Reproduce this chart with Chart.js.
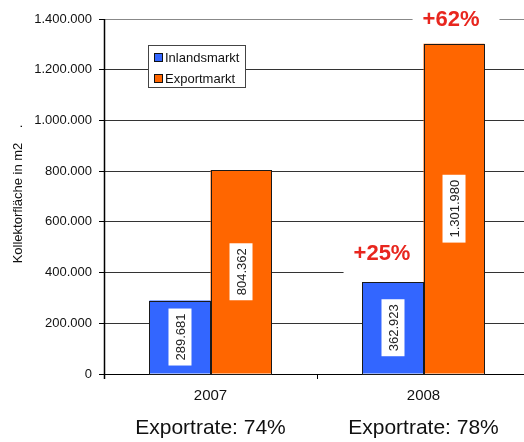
<!DOCTYPE html>
<html>
<head>
<meta charset="utf-8">
<script src="https://cdn.jsdelivr.net/npm/chart.js@4"></script>
<style>
  html, body { margin: 0; padding: 0; overflow: hidden; background: #fff; }
  #wrap { width: 524px; height: 442px; overflow: hidden; position: relative; }
  #chart1 { display: block; }
</style>
</head>
<body>
<div id="wrap"><canvas id="chart1" width="530" height="442"></canvas></div>
<script>
// data
const years = ['2007', '2008'];
const inland = [289681, 362923];
const exportValues = [804362, 1301980];
const growthLabels = ['+25%', '+62%'];
const exportRates = ['Exportrate: 74%', 'Exportrate: 78%'];
const yTicks = [0, 200000, 400000, 600000, 800000, 1000000, 1200000, 1400000];

const FONT = "Arial, 'Liberation Sans', sans-serif";
const fmt = v => String(v).replace(/\B(?=(\d{3})+(?!\d))/g, '.');

// labels, legend, titles drawn on top of the chart
const extras = {
    id: 'extras',
    beforeDatasetsDraw(chart) {
        const ctx = chart.ctx;
        ctx.save();
        ctx.fillStyle = '#fff';
        growthSpots(chart).forEach(s => {
            ctx.font = 'bold 22px ' + FONT;
            const w = ctx.measureText(s.text).width;
            ctx.fillRect(s.x - w / 2 - 10, s.y - 20, w + 30, 40);
        });
        ctx.restore();
    },
    afterDatasetsDraw(chart) {
        const ctx = chart.ctx;
        ctx.save();
        // crisp outlines round the bars
        ctx.strokeStyle = '#1a1a1a';
        ctx.lineWidth = 1;
        chart.data.datasets.forEach((ds, di) => {
            chart.getDatasetMeta(di).data.forEach(bar => {
                const l = Math.round(bar.x - bar.width / 2);
                const r = Math.round(bar.x + bar.width / 2);
                const t = Math.round(bar.y);
                const b = Math.round(bar.base);
                ctx.strokeRect(l + 0.5, t + 0.5, r - l - 1, b - t);
            });
        });

        // value labels inside bars
        ctx.font = '13px ' + FONT;
        chart.data.datasets.forEach((ds, di) => {
            chart.getDatasetMeta(di).data.forEach((bar, i) => {
                const txt = fmt(ds.data[i]);
                const w = ctx.measureText(txt).width;
                const cy = (bar.y + bar.base) / 2;
                ctx.save();
                ctx.translate(bar.x, cy);
                ctx.rotate(-Math.PI / 2);
                ctx.fillStyle = '#fff';
                ctx.fillRect(-w / 2 - 5, -11.5, w + 10, 23);
                ctx.fillStyle = '#222';
                ctx.textAlign = 'center';
                ctx.textBaseline = 'middle';
                ctx.fillText(txt, 0, 1);
                ctx.restore();
            });
        });
        // growth labels
        ctx.font = 'bold 22px ' + FONT;
        ctx.fillStyle = '#e8261e';
        ctx.textAlign = 'center';
        ctx.textBaseline = 'middle';
        growthSpots(chart).forEach(s => ctx.fillText(s.text, s.x, s.y));

        // legend
        ctx.fillStyle = '#fff';
        ctx.fillRect(148.5, 45.5, 97, 42);
        ctx.strokeStyle = '#444';
        ctx.lineWidth = 1;
        ctx.strokeRect(148.5, 45.5, 97, 42);
        ctx.font = '13px ' + FONT;
        ctx.textAlign = 'left';
        chart.data.datasets.forEach((ds, di) => {
            const y = 53.5 + di * 21;
            ctx.fillStyle = ds.backgroundColor;
            ctx.fillRect(154.5, y, 8, 8);
            ctx.strokeStyle = '#111';
            ctx.strokeRect(154.5, y, 8, 8);
            ctx.fillStyle = '#111';
            ctx.fillText(ds.label, 165, y + 4.5);
        });

        // y axis title
        ctx.save();
        ctx.translate(18, 194);
        ctx.rotate(-Math.PI / 2);
        ctx.font = '13px ' + FONT;
        ctx.fillStyle = '#111';
        ctx.textAlign = 'center';
        ctx.fillText('Kollektorfläche in m2    .', 0, 0);
        ctx.restore();

        // export rates under categories
        const xs = chart.scales.x;
        ctx.font = '21px ' + FONT;
        ctx.fillStyle = '#111';
        ctx.textAlign = 'center';
        ctx.textBaseline = 'alphabetic';
        exportRates.forEach((t, i) => ctx.fillText(t, xs.getPixelForValue(i), 434));
        ctx.restore();
    },
    afterDraw(chart) {
        // y axis line
        const ctx = chart.ctx;
        const ys = chart.scales.y;
        const x = Math.round(ys.right) + 0.5;
        ctx.save();
        ctx.strokeStyle = '#000';
        ctx.lineWidth = 1.5;
        ctx.beginPath();
        ctx.moveTo(x, ys.top);
        ctx.lineTo(x, ys.bottom + 5);
        ctx.stroke();
        ctx.restore();
    }
};

function growthSpots(chart) {
    const blue = chart.getDatasetMeta(0).data[1];
    const orange = chart.getDatasetMeta(1).data[1];
    return [
        { text: growthLabels[0], x: blue.x - 11, y: blue.y - 28 },
        { text: growthLabels[1], x: orange.x - 3, y: orange.y - 24 }
    ];
}

const ctx = document.getElementById('chart1').getContext('2d');
const chart = new Chart(ctx, {
    type: 'bar',
    data: {
        labels: years,
        datasets: [{
            label: 'Inlandsmarkt',
            backgroundColor: '#3366ff',
            borderWidth: 0,
            data: inland
        }, {
            label: 'Exportmarkt',
            backgroundColor: '#ff6600',
            borderWidth: 0,
            data: exportValues
        }]
    },
    options: {
        responsive: false,
        animation: false,
        layout: { padding: { top: 19, left: 0, right: 0, bottom: 0 } },
        categoryPercentage: 0.573,
        barPercentage: 1,
        plugins: { legend: { display: false }, tooltip: { enabled: false } },
        scales: {
            x: {
                afterFit: s => { s.height = 68; },
                grid: { drawOnChartArea: false, offset: true, tickLength: 5, tickColor: '#000' },
                border: { color: '#000', width: 1 },
                ticks: { color: '#111', font: { family: FONT, size: 15 }, padding: 8 }
            },
            y: {
                min: 0,
                max: 1400000,
                afterFit: s => { s.width = 104; },
                afterBuildTicks: s => { s.ticks = yTicks.map(v => ({ value: v })); },
                grid: {
                    color: c => (c.tick && c.tick.value === 1400000) ? '#888' : '#333',
                    tickLength: 5,
                    tickColor: '#000'
                },
                border: { display: true, color: '#000', width: 1 },
                ticks: {
                    color: '#111',
                    font: { family: FONT, size: 13 },
                    padding: 7,
                    callback: v => fmt(v)
                }
            }
        }
    },
    plugins: [extras]
});
</script>
</body>
</html>
